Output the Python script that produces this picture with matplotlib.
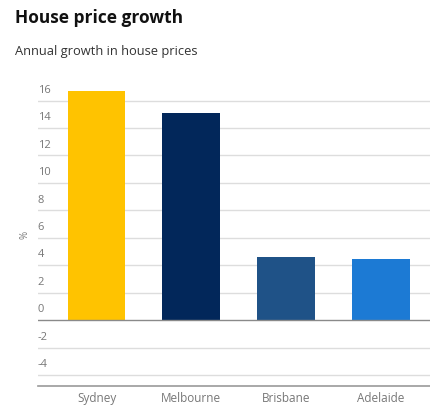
import numpy as np
import matplotlib.pyplot as plt
import matplotlib.transforms as mtransforms

plt.rcParams['font.family'] = ['Open Sans', 'DejaVu Sans']

# Datos
ciudades = ['Sydney', 'Melbourne', 'Brisbane', 'Adelaide']
crecimiento = [16.7, 15.1, 4.6, 4.45]
colores = ['#FFC300', '#02275A', '#1F5287', '#1C7AD4']
ticks_y = [-4, -2, 0, 2, 4, 6, 8, 10, 12, 14, 16]

fig = plt.figure(figsize=(4.3, 4.08), dpi=100)
ax = fig.add_axes([0.088, 0.054, 0.912, 0.74])

x = np.arange(len(ciudades))
ax.bar(x, crecimiento, width=0.61, color=colores, zorder=3)

ax.set_xlim(-0.62, 3.52)
ax.set_ylim(-4.8, 17.2)

# Rejilla horizontal
for t in ticks_y:
    if t == 0:
        ax.axhline(t, color='#8a8a8a', lw=1.0, zorder=4)
    else:
        ax.axhline(t, color='#dddddd', lw=1.0, zorder=1)

# Etiquetas del eje y encima de las lineas
trans = mtransforms.blended_transform_factory(ax.transAxes, ax.transData)
for t in ticks_y:
    ax.text(0.0, t + 0.35, str(t), transform=trans, ha='left', va='bottom',
            fontsize=8, color='#777777')

ax.set_yticks([])
ax.set_xticks(x)
ax.set_xticklabels(ciudades, fontsize=8.5, color='#777777')
ax.tick_params(axis='x', length=0, pad=4)

for s in ['top', 'right', 'left']:
    ax.spines[s].set_visible(False)
ax.spines['bottom'].set_color('#999999')
ax.spines['bottom'].set_linewidth(1.2)

fig.text(0.057, 0.425, '%', rotation=90, fontsize=7, color='#777777',
         ha='center', va='center')

fig.text(0.035, 0.955, 'House price growth', fontsize=12.5, fontweight='bold',
         color='#111111', ha='left', va='center')
fig.text(0.035, 0.873, 'Annual growth in house prices', fontsize=9.3,
         color='#333333', ha='left', va='center')

fig.savefig('out.png', dpi=100, facecolor='white')
